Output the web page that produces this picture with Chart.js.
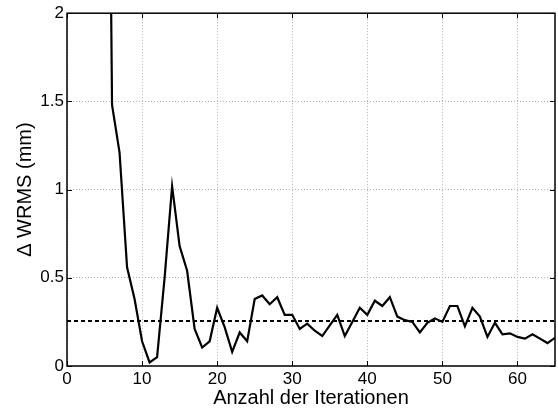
<!DOCTYPE html>
<html>
<head>
<meta charset="utf-8">
<script src="https://cdn.jsdelivr.net/npm/chart.js@4/dist/chart.umd.min.js"></script>
<style>
  html, body { margin: 0; padding: 0; background: #fff; }
  #wrap { width: 558px; height: 412px; }
</style>
</head>
<body>
<div id="wrap"><canvas id="wrmsChart" width="558" height="412"></canvas></div>
<script>
// iteration number and change of WRMS per iteration (mm)
var iterations = [5, 6, 7, 8, 9, 10, 11, 12, 13, 14, 15, 16, 17, 18, 19, 20,
    21, 22, 23, 24, 25, 26, 27, 28, 29, 30, 31, 32, 33, 34, 35, 36, 37, 38, 39, 40,
    41, 42, 43, 44, 45, 46, 47, 48, 49, 50, 51, 52, 53, 54, 55, 56, 57, 58, 59, 60,
    61, 62, 63, 64, 65];
var deltaWrms = [6.0, 1.48, 1.21, 0.56, 0.38, 0.14, 0.02, 0.05, 0.50, 1.02, 0.68, 0.54, 0.21, 0.105, 0.14, 0.33,
    0.22, 0.08, 0.19, 0.14, 0.38, 0.40, 0.35, 0.39, 0.29, 0.29, 0.21, 0.24, 0.20, 0.17, 0.23, 0.29, 0.17, 0.25, 0.33, 0.29,
    0.37, 0.34, 0.39, 0.28, 0.26, 0.25, 0.19, 0.245, 0.27, 0.25, 0.34, 0.34, 0.225, 0.33, 0.28, 0.165, 0.245, 0.18, 0.185, 0.165,
    0.155, 0.18, 0.155, 0.13, 0.16];
var thresholdX = [0, 65];
var threshold = 0.255;

var xTicks = [0, 10, 20, 30, 40, 50, 60];
var yTicks = [0, 0.5, 1, 1.5, 2];

var fontFamily = '"Liberation Sans", Arial, Helvetica, sans-serif';

// matlab-like box around the axes with inward tick marks
var boxPlugin = {
    id: 'axesBox',
    afterDatasetsDraw: function (chart) {
        var ctx = chart.ctx, a = chart.chartArea;
        var xs = chart.scales.x, ys = chart.scales.y;
        ctx.save();
        ctx.strokeStyle = '#000';
        ctx.lineWidth = 1;
        ctx.beginPath();
        xTicks.forEach(function (t) {
            var px = Math.round(xs.getPixelForValue(t)) + 0.5;
            ctx.moveTo(px, a.bottom); ctx.lineTo(px, a.bottom - 5);
            ctx.moveTo(px, a.top); ctx.lineTo(px, a.top + 5);
        });
        yTicks.forEach(function (t) {
            var py = Math.round(ys.getPixelForValue(t)) + 0.5;
            ctx.moveTo(a.left, py); ctx.lineTo(a.left + 5, py);
            ctx.moveTo(a.right, py); ctx.lineTo(a.right - 5, py);
        });
        ctx.stroke();
        ctx.lineWidth = 1.5;
        ctx.strokeRect(a.left, a.top, a.right - a.left, a.bottom - a.top);
        ctx.restore();
    }
};

new Chart(document.getElementById('wrmsChart'), {
    type: 'line',
    data: {
        datasets: [{
            data: iterations.map(function (x, i) { return {x: x, y: deltaWrms[i]}; }),
            borderColor: '#000',
            borderWidth: 2.2,
            pointRadius: 0,
            tension: 0,
            fill: false
        }, {
            data: thresholdX.map(function (x) { return {x: x, y: threshold}; }),
            borderColor: '#000',
            borderWidth: 2,
            borderDash: [4, 3],
            pointRadius: 0,
            fill: false
        }]
    },
    plugins: [boxPlugin],
    options: {
        responsive: false,
        animation: false,
        layout: {padding: {top: 10, right: 3, left: 0, bottom: 0}},
        plugins: {
            legend: {display: false},
            tooltip: {enabled: false}
        },
        scales: {
            x: {
                type: 'linear',
                min: 0,
                max: 65,
                afterFit: function (s) { s.height = 46; },
                afterBuildTicks: function (s) { s.ticks = xTicks.map(function (v) { return {value: v}; }); },
                grid: {
                    color: '#b0b0b0',
                    lineWidth: 1,
                    drawTicks: false
                },
                border: {display: false, dash: [1, 2]},
                ticks: {
                    color: '#000',
                    padding: 3,
                    maxRotation: 0,
                    font: {family: fontFamily, size: 17},
                    callback: function (v) { return String(v); }
                },
                title: {
                    display: true,
                    text: 'Anzahl der Iterationen',
                    color: '#000',
                    padding: {top: 0, bottom: 2},
                    font: {family: fontFamily, size: 20}
                }
            },
            y: {
                min: 0,
                max: 2,
                afterFit: function (s) { s.width = 67; },
                afterBuildTicks: function (s) { s.ticks = yTicks.map(function (v) { return {value: v}; }); },
                grid: {
                    color: '#b0b0b0',
                    lineWidth: 1,
                    drawTicks: false
                },
                border: {display: false, dash: [1, 2]},
                ticks: {
                    color: '#000',
                    padding: 3,
                    font: {family: fontFamily, size: 17},
                    callback: function (v) { return String(v); }
                },
                title: {
                    display: true,
                    text: '\u0394 WRMS (mm)',
                    color: '#000',
                    padding: {top: 13, bottom: 0},
                    font: {family: fontFamily, size: 20}
                }
            }
        }
    }
});
</script>
</body>
</html>
